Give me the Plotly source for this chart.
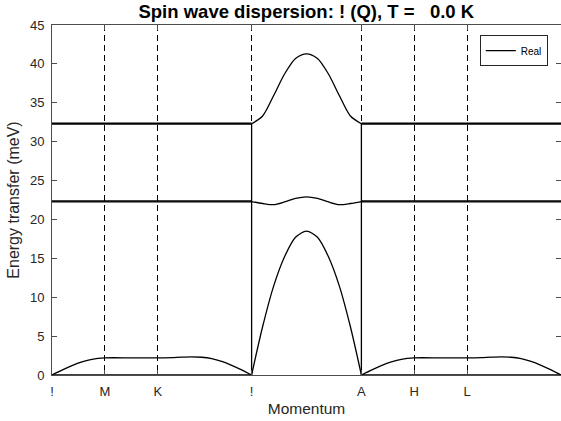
import plotly.graph_objects as go

# High-symmetry points along the path
tick_pos = [0.0, 0.53, 1.06, 2.00, 3.10, 3.63, 4.16, 5.10]
tick_labels = ["!", "M", "K", "!", "A", "H", "L", "A"]

# Γ-M-K-Γ branch (same dispersion repeated on A-H-L-A)
q_mk = [0.0, 0.1, 0.2, 0.3, 0.4, 0.53, 0.8, 1.06, 1.2, 1.3, 1.4, 1.5, 1.6, 1.7, 1.8, 1.9, 2.0]
e_acoustic = [0, 0.62, 1.2, 1.68, 2.02, 2.2, 2.2, 2.2, 2.24, 2.3, 2.33, 2.28, 2.1, 1.75, 1.25, 0.66, 0]
q_flat = [0.0, 2.0]
e_zero = [0.0, 0.0]
e_mid1 = [22.25, 22.25]
e_mid2 = [22.37, 22.37]
e_top1 = [32.25, 32.25]
e_top2 = [32.37, 32.37]

# Γ-A branch
q_ga = [2.0, 2.11, 2.22, 2.33, 2.44, 2.55, 2.66, 2.77, 2.88, 2.99, 3.1]
e_ga_low = [0, 6.2, 11.4, 15.2, 17.7, 18.5, 17.7, 15.2, 11.4, 6.2, 0]
e_ga_mid = [22.3, 22.05, 21.9, 22.25, 22.7, 22.9, 22.7, 22.25, 21.9, 22.05, 22.3]
e_ga_top = [32.3, 33.3, 35.9, 38.7, 40.7, 41.3, 40.7, 38.7, 35.9, 33.3, 32.3]

# start of the Γ-M-K-Γ and A-H-L-A sections
seg_offsets = [0.0, 3.10]

LINE = dict(color="black", width=1.3)
fig = go.Figure()
first = True


def add(x, y, shape="linear"):
    global first
    fig.add_trace(go.Scatter(x=x, y=y, mode="lines", line=dict(LINE, shape=shape, smoothing=0.8),
                             name="Real", showlegend=first, hoverinfo="skip"))
    first = False


for off in seg_offsets:
    xs = [q + off for q in q_mk]
    add(xs, e_acoustic, "spline")
    xf = [q + off for q in q_flat]
    for ev in (e_zero, e_mid1, e_mid2, e_top1, e_top2):
        add(xf, ev)

add(q_ga, e_ga_low, "spline")
add(q_ga, e_ga_mid, "spline")
add(q_ga, e_ga_top, "spline")
# mode switching at Γ and A (vertical connectors)
add([q_ga[0], q_ga[0]], [e_zero[-1], e_ga_top[0]])
add([q_ga[-1], q_ga[-1]], [e_ga_top[-1], e_zero[0]])

FONT = "Liberation Sans, Arial, Helvetica, sans-serif"
TXT = "#262626"
AX = "#4d4d4d"

fig.update_layout(
    width=561, height=421,
    margin=dict(l=52, r=0, t=25, b=46),
    paper_bgcolor="white", plot_bgcolor="white",
    font=dict(family=FONT, size=13, color=TXT),
    title=dict(text="Spin wave dispersion: ! (Q), T =\u00a0\u00a0\u00a00.0 K",
               x=0.546, xanchor="center", y=0.972, yanchor="middle",
               font=dict(family=FONT, size=18.5, color="black", weight="bold")),
    showlegend=True,
    legend=dict(x=0.974, y=0.971, xanchor="right", yanchor="top",
                bgcolor="white", bordercolor="#262626", borderwidth=1,
                font=dict(family=FONT, size=10, color="black"),
                itemwidth=30, tracegroupgap=0),
)
fig.update_xaxes(
    range=[tick_pos[0], tick_pos[-1]], tickmode="array", tickvals=tick_pos, ticktext=tick_labels,
    ticks="inside", ticklen=5, tickcolor=AX, showline=True, linecolor=AX, linewidth=1,
    mirror="ticks", showgrid=True, gridcolor="black", gridwidth=1, griddash="6px,4px",
    zeroline=False, tickfont=dict(size=13, color=TXT), ticklabelstandoff=4,
    title=dict(text="Momentum", font=dict(size=15.5, color=TXT), standoff=5),
)
fig.update_yaxes(
    range=[0, 45], tickmode="linear", tick0=0, dtick=5,
    ticks="inside", ticklen=5, tickcolor=AX, showline=True, linecolor=AX, linewidth=1,
    mirror="ticks", showgrid=False, zeroline=False,
    tickfont=dict(size=13, color=TXT), ticklabelstandoff=4,
    title=dict(text="Energy transfer (meV)", font=dict(size=16, color=TXT), standoff=6),
)

fig.write_html("out.html")
